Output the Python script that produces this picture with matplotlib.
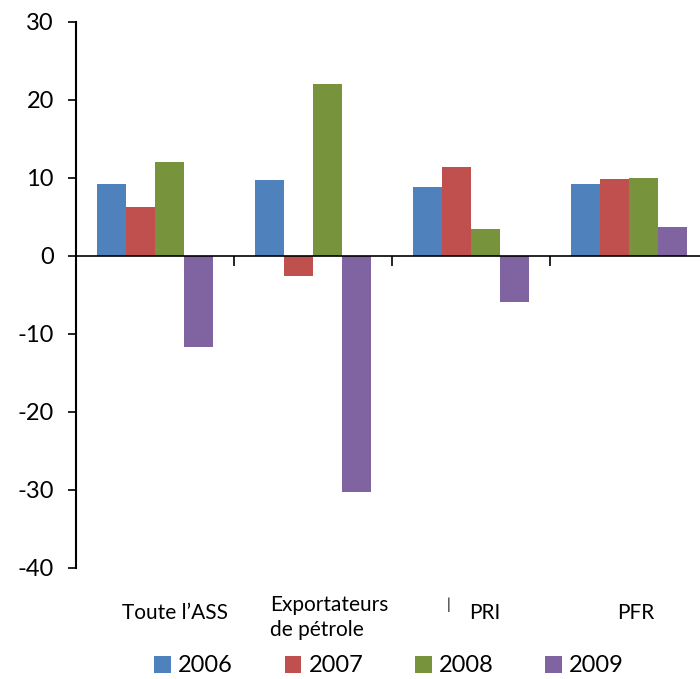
import numpy as np
import matplotlib
matplotlib.use('Agg')
import matplotlib.pyplot as plt

plt.rcParams['font.family'] = ['Lato', 'DejaVu Sans']
plt.rcParams['axes.unicode_minus'] = False

# Data
categories = ['Toute l\u2019ASS', 'Exportateurs\nde p\u00e9trole', 'PRI', 'PFR']
years = ['2006', '2007', '2008', '2009']
v2006 = [9.2, 9.7, 8.8, 9.2]
v2007 = [6.3, -2.6, 11.4, 9.9]
v2008 = [12.0, 22.1, 3.5, 10.0]
v2009 = [-11.7, -30.2, -5.9, 3.7]
colours = ['#4F81BD', '#C0504D', '#77933C', '#8064A2']

F1 = plt.figure(figsize=(7, 6.79), dpi=100)
ax = F1.add_axes([76/700, 1-568/679, 1-76/700, (568-22)/679])

x = np.arange(len(categories))
bw = 1/5.47
series = [v2006, v2007, v2008, v2009]
for i, vals in enumerate(series):
    ax.bar(x + (i-1.5)*bw, vals, bw, color=colours[i], label=years[i], zorder=2)

ax.set_xlim(-0.5, 3.45)
ax.set_ylim(-40, 30)
ax.set_yticks(np.arange(-40, 31, 10))
ax.tick_params(axis='y', labelsize=17, length=6, width=1.2, direction='out', pad=10)

for s in ['top', 'right']:
    ax.spines[s].set_visible(False)
ax.spines['left'].set_linewidth(1.5)
ax.spines['bottom'].set_position(('data', 0))
ax.spines['bottom'].set_linewidth(1.2)
ax.spines['bottom'].set_zorder(3)
ax.set_xticks([0.5, 1.5, 2.5])
ax.set_xticklabels([])
ax.tick_params(axis='x', length=7, width=1.2, direction='out')

# category labels, placed like in the reference
fs_cat = 15
ax.text(0.127, -45.8, categories[0], ha='center', va='center', fontsize=fs_cat, clip_on=False)
ax.text(0.728, -46.3, categories[1], ha='left', va='center', fontsize=fs_cat,
        linespacing=1.3, clip_on=False)
ax.text(2.089, -45.8, categories[2], ha='center', va='center', fontsize=fs_cat, clip_on=False)
ax.text(3.044, -45.8, categories[3], ha='center', va='center', fontsize=fs_cat, clip_on=False)
ax.text(1.861, -44.7, '|', ha='center', va='center', fontsize=11, clip_on=False)

F1.legend(loc='center', bbox_to_anchor=(0.556, 1-666/679), ncol=4, frameon=False,
          fontsize=17, handlelength=0.7, handleheight=0.7, handletextpad=0.3,
          columnspacing=2.2)

plt.savefig('out.png', dpi=100)
